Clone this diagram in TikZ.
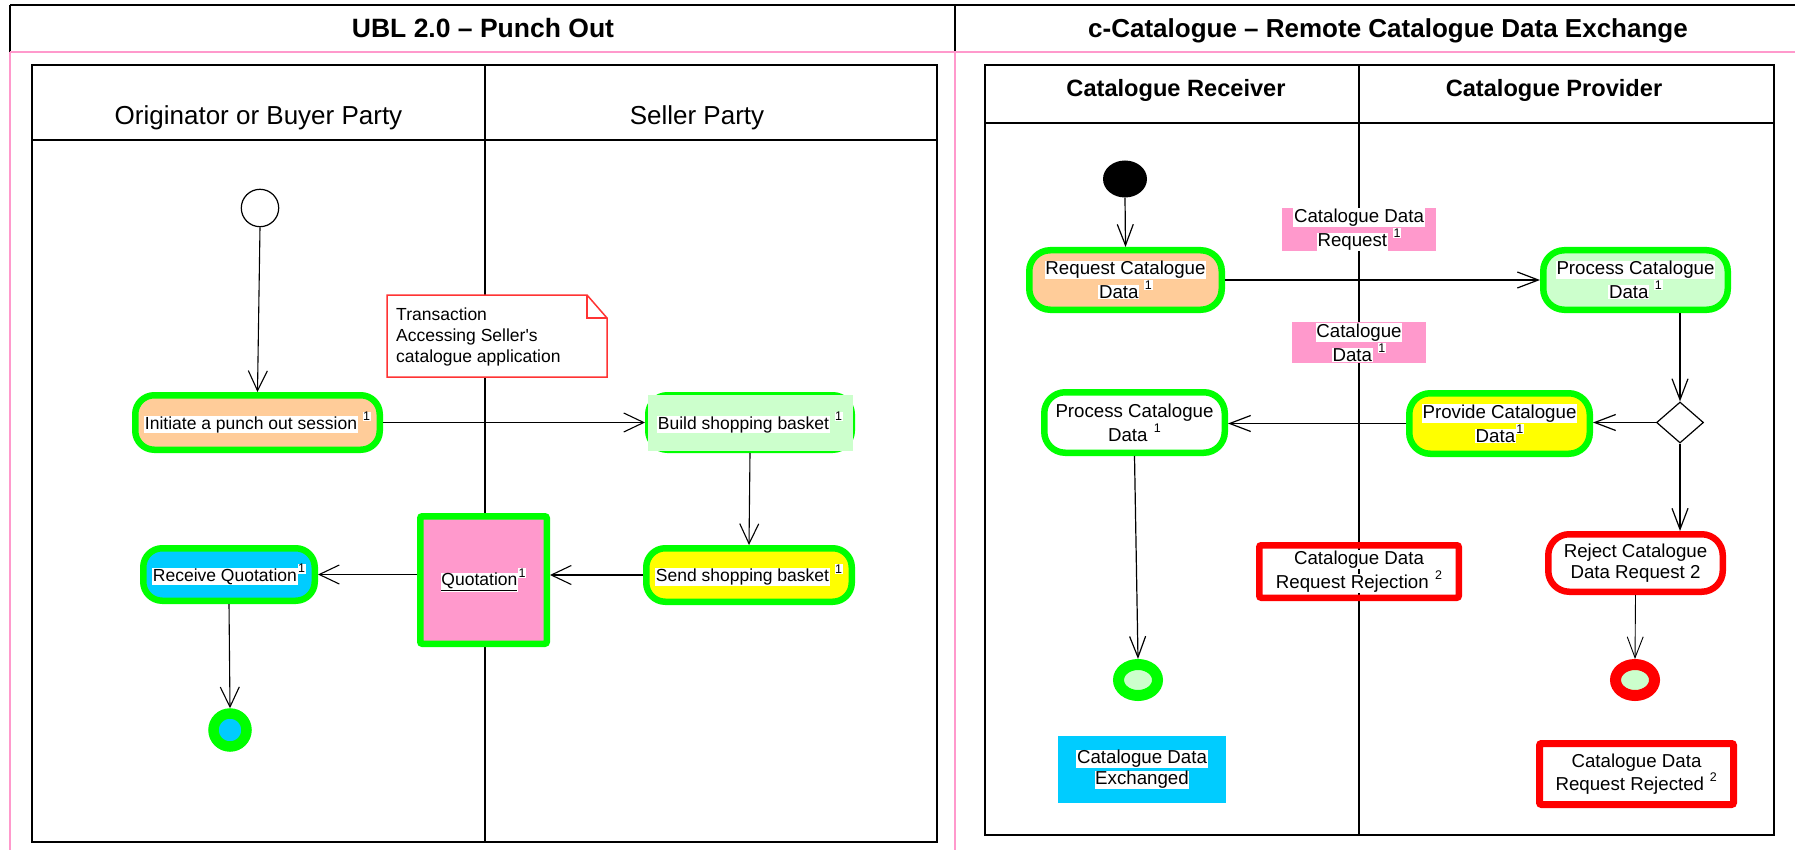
\documentclass[tikz,border=0pt]{standalone}
\usepackage{fontspec}
\setmainfont{Liberation Sans}[Ligatures=TeXOff]
\usetikzlibrary{arrows.meta,shapes.geometric}

\definecolor{lime}{HTML}{00FF00}
\definecolor{peach}{HTML}{FFCC99}
\definecolor{mint}{HTML}{CCFFCC}
\definecolor{lemon}{HTML}{FFFF00}
\definecolor{sky}{HTML}{00CCFF}
\definecolor{rose}{HTML}{FF99CC}
\definecolor{alert}{HTML}{FF0000}
\definecolor{notered}{HTML}{FF3333}

% font sizes (1pt = one unit of the drawing grid)
\newcommand\fTitle{\fontsize{26.5}{30}\selectfont\bfseries}
\newcommand\fTitleR{\fontsize{26}{30}\selectfont\bfseries}
\newcommand\fLane{\fontsize{26}{30}\selectfont}
\newcommand\fLaneB{\fontsize{23.6}{27}\selectfont\bfseries}
\newcommand\fActL{\fontsize{17.5}{20.7}\selectfont}
\newcommand\fActR{\fontsize{18.7}{21}\selectfont}

% text on a tight white background, and raised footnote marks
\newcommand\hl[1]{{\setlength{\fboxsep}{0.6pt}\colorbox{white}{#1}}}
\newcommand\supn[1]{\raisebox{0.48em}{\hl{\fontsize{12.5}{12.5}\selectfont #1}}}

\begin{document}
\begin{tikzpicture}[x=1pt,y=-1pt,
  actL/.style={rectangle, draw=lime, line width=6.5pt, rounded corners=19pt,
    inner sep=0pt, align=center, font=\fActL},
  actR/.style={rectangle, draw=lime, line width=6.5pt, rounded corners=21pt,
    inner sep=0pt, align=center, font=\fActR},
  txt/.style={inner sep=0pt, align=center},
  flow/.style={line width=1.1pt, -{Straight Barb[length=20pt,width=19pt]}},
  flowR/.style={line width=1.2pt, -{Straight Barb[length=21pt,width=16pt]}},
  lanebox/.style={draw=black, line width=1.5pt},
  frame/.style={draw=black, line width=2.5pt},
  pinkrule/.style={draw=rose, line width=1.5pt},
]
\useasboundingbox (0,0) rectangle (1795,850);

% ---------- outer table ----------
\draw[frame] (10,5) -- (1795,5);
\draw[frame, line width=1.5pt] (10,5) -- (10,52);
\draw[frame, line width=1.5pt] (955,5) -- (955,52);
\draw[pinkrule] (10,52) -- (1795,52);
\draw[pinkrule] (10,52) -- (10,850);
\draw[pinkrule] (955,52) -- (955,850);

\node[font=\fTitle, anchor=base] (titleL) at (483,38) {UBL 2.0 – Punch Out};
\node[font=\fTitleR, anchor=base] (titleR) at (1388,37.5) {c-Catalogue – Remote Catalogue Data Exchange};

% ---------- left swimlanes ----------
\draw[lanebox] (32,65) rectangle (937,842);
\draw[lanebox] (32,140) -- (937,140);
\draw[lanebox] (485,65) -- (485,842);
\node[font=\fLane, anchor=base] (laneBuyer) at (258.5,125) {Originator or Buyer Party};
\node[font=\fLane, anchor=base] (laneSeller) at (697,125) {Seller Party};

% ---------- right swimlanes ----------
\draw[lanebox] (985,65) rectangle (1774,835);
\draw[lanebox] (985,123) -- (1774,123);
\draw[lanebox] (1359,65) -- (1359,835);
\node[font=\fLaneB, anchor=base] (laneRecv) at (1176,97) {Catalogue Receiver};
\node[font=\fLaneB, anchor=base] (laneProv) at (1554,97) {Catalogue Provider};

% ---------- left activity diagram ----------
\node[circle, draw=black, line width=1.2pt, fill=white, minimum size=37.4pt, inner sep=0pt]
  (start1) at (260,208) {};

\node[actL, fill=peach, minimum width=244.5pt, minimum height=54.5pt]
  (initiate) at (257.5,422.5) {\hl{Initiate a punch out session} \supn{1}};

% note
\draw[notered, line width=1.5pt, fill=white]
  (387,295) -- (587,295) -- (607,318) -- (607,377) -- (387,377) -- cycle;
\draw[notered, line width=1.5pt] (587,295) -- (587,318) -- (607,318);
\node[font=\fActL, anchor=north west, align=left, inner sep=0pt]
  (notetext) at (396,308) {Transaction\\Accessing Seller's\\catalogue application};

\node[actL, minimum width=203.5pt, minimum height=54.5pt] (build) at (750,422.5) {};
\fill[mint] (648,395) rectangle (853,451);
\node[txt, font=\fActL] (buildtext) at (build.center) {\hl{Build shopping basket} \supn{1}};

\node[actL, fill=lemon, minimum width=205.5pt, minimum height=53.5pt]
  (send) at (749,575) {\hl{Send shopping basket} \supn{1}};

\node[rectangle, draw=lime, fill=rose, line width=6.5pt, rounded corners=2pt,
  minimum width=126.5pt, minimum height=127.5pt, inner sep=0pt, font=\fActL]
  (quot) at (483.5,580) {\hl{\underline{Quotation}}\supn{1}};

\node[actL, fill=sky, minimum width=171.5pt, minimum height=52.5pt]
  (receive) at (229,574.5) {\hl{Receive Quotation}\supn{1}};

\node[circle, draw=lime, fill=sky, line width=10.5pt, minimum size=33pt, inner sep=0pt]
  (end1) at (230,730) {};

\draw[flow] (start1.south) -- (initiate.north);
\draw[flow] (initiate.east) -- (build.west);
\draw[flow] (build.south) -- (send.north);
\draw[flow] (send.west) -- (send.west -| quot.east);
\draw[flow] (quot.west |- receive.east) -- (receive.east);
\draw[flow] (receive.south) -- (end1.north);

% ---------- right activity diagram ----------
\node[ellipse, fill=black, minimum width=44pt, minimum height=37pt, inner sep=0pt]
  (start2) at (1125,179) {};

\node[actR, fill=peach, minimum width=192.5pt, minimum height=59.5pt]
  (req) at (1125.5,280) {\hl{Request Catalogue}\\\hl{Data} \supn{1}};

\node[rectangle, fill=rose, minimum width=154pt, minimum height=41pt, inner sep=0pt,
  align=center, font=\fActR]
  (msgReq) at (1359,229.5) {\hl{Catalogue Data}\\\hl{Request} \supn{1}};

\node[actR, fill=mint, minimum width=184.5pt, minimum height=59.5pt]
  (proc1) at (1635.5,280) {\hl{Process Catalogue}\\\hl{Data} \supn{1}};

\node[rectangle, fill=rose, minimum width=134pt, minimum height=41pt, inner sep=0pt,
  align=center, font=\fActR]
  (msgData) at (1359,342.5) {\hl{Catalogue}\\\hl{Data} \supn{1}};

\node[diamond, draw=black, fill=white, line width=1.2pt, minimum width=47pt,
  minimum height=41pt, inner sep=0pt] (dia) at (1680,422.5) {};

\node[actR, fill=lemon, minimum width=180.5pt, minimum height=60.5pt]
  (prov) at (1499.5,423.5) {\hl{Provide Catalogue}\\\hl{Data}\supn{1}};

\node[actR, fill=white, minimum width=180.5pt, minimum height=60.5pt]
  (proc2) at (1134.5,422.5) {\hl{Process Catalogue}\\\hl{Data} \supn{1}};

\node[actR, draw=alert, fill=white, minimum width=174.5pt, minimum height=57.5pt]
  (rej) at (1635.5,563) {Reject Catalogue\\Data Request 2};

\node[rectangle, draw=alert, line width=6.5pt, rounded corners=2pt,
  minimum width=199.5pt, minimum height=52.5pt, inner sep=0pt, align=center, font=\fActR]
  (rejMsg) at (1359,571.5) {\hl{Catalogue Data}\\\hl{Request Rejection} \supn{2}};

\node[ellipse, draw=lime, fill=mint, line width=11pt, minimum width=39pt,
  minimum height=31pt, inner sep=0pt] (end2) at (1138,680) {};
\node[ellipse, draw=alert, fill=mint, line width=11pt, minimum width=39pt,
  minimum height=31pt, inner sep=0pt] (end3) at (1635,680) {};

\node[rectangle, fill=sky, minimum width=168pt, minimum height=67pt, inner sep=0pt,
  align=center, font=\fActR]
  (exch) at (1142,769.5) {\hl{Catalogue Data}\\\hl{Exchanged}};

\node[rectangle, draw=alert, fill=white, line width=7pt, rounded corners=2pt,
  minimum width=194pt, minimum height=61pt, inner sep=0pt, align=center, font=\fActR]
  (rejDone) at (1636.5,774) {Catalogue Data\\Request Rejected \supn{2}};

\draw[flowR] (start2.south) -- (req.north);
\draw[flowR] (req.east) -- (proc1.west);
\draw[flowR] (dia.north |- proc1.south) -- (dia.north);
\draw[flowR] (dia.west) -- (dia.west -| prov.east);
\draw[flowR] (prov.west) -- (prov.west -| proc2.east);
\draw[flowR] (dia.south) -- (dia.south |- rej.north);
\draw[flowR] (proc2.south) -- (end2.north);
\draw[flowR, line width=0.9pt] (rej.south) -- (end3.north);
\end{tikzpicture}
\end{document}
